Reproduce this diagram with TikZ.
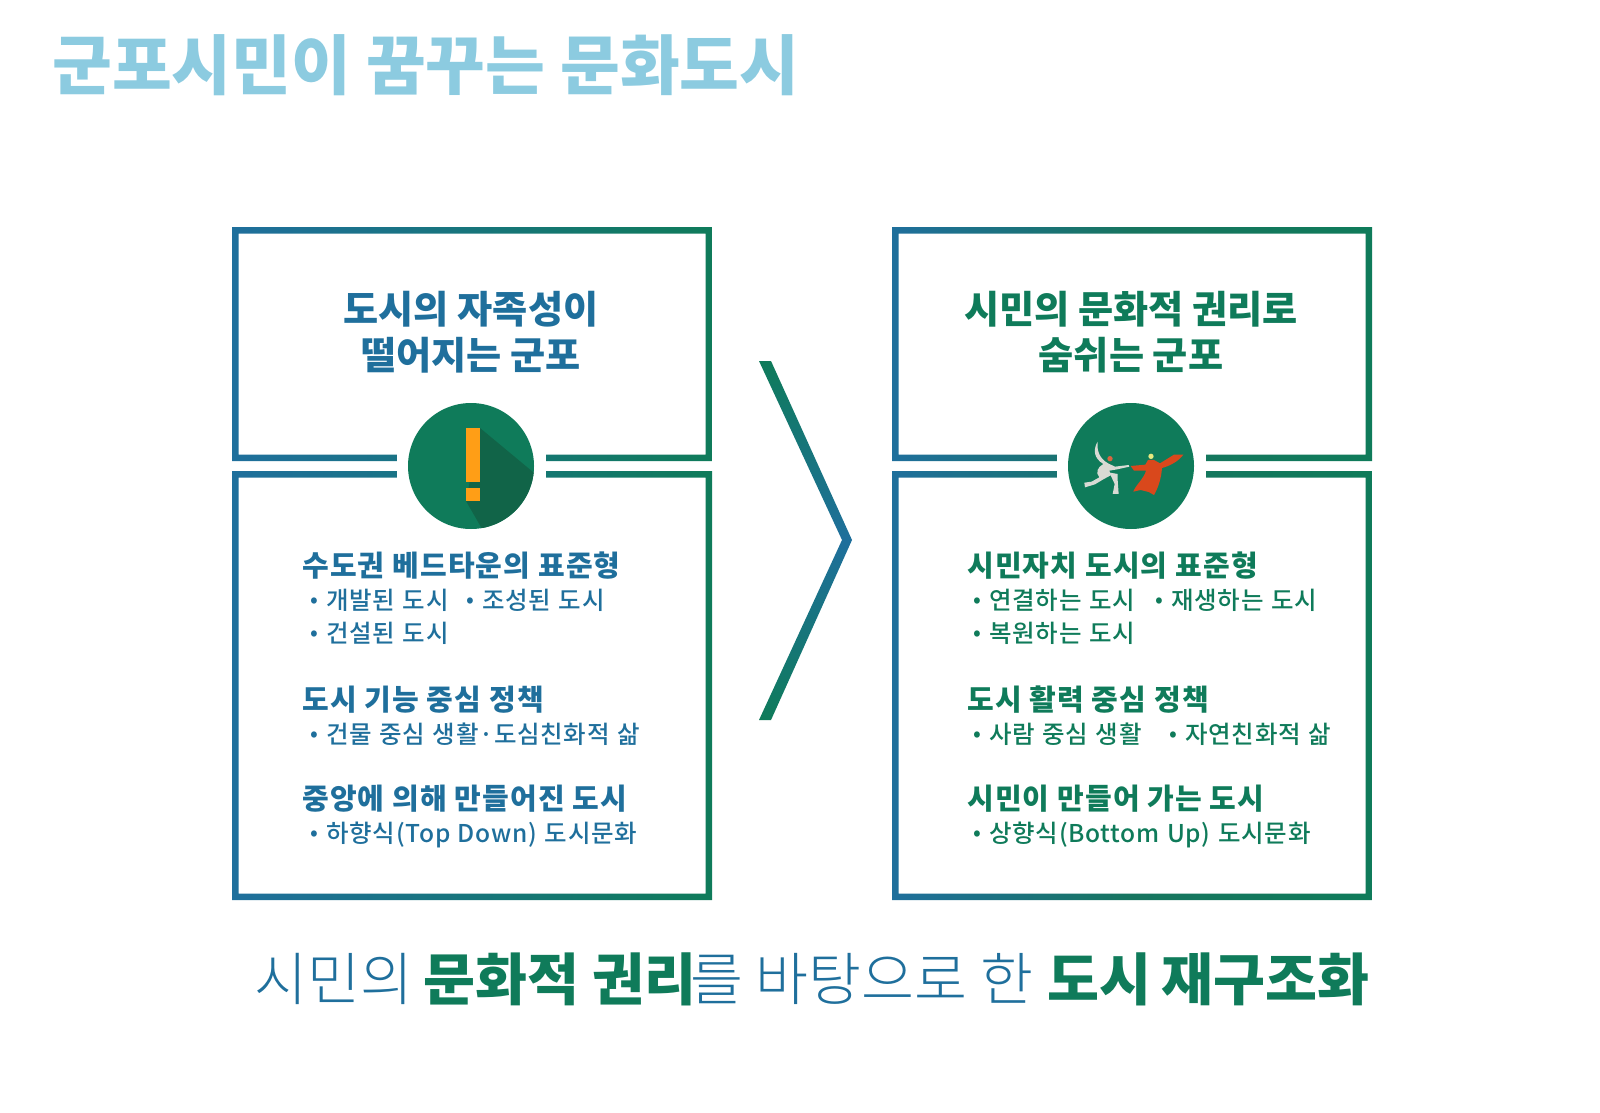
\documentclass[tikz,border=0pt]{standalone}
\usepackage{fontspec}
\newfontfamily\krfont{Noto Sans CJK KR}
\newfontfamily\krmedium[WordSpace=1.2]{Noto Sans CJK KR Medium}
\newfontfamily\krheavy{Noto Sans CJK KR Black}
\newfontfamily\krlight{Noto Sans CJK KR Light}
\definecolor{mblue}{HTML}{1F6F9C}
\definecolor{mgreen}{HTML}{0F7B5A}
\definecolor{msky}{HTML}{8CCBE0}
\definecolor{mdark}{HTML}{116448}
\definecolor{morange}{HTML}{FF9E16}
\definecolor{mgrey}{HTML}{D9DAD4}
\definecolor{mred}{HTML}{D9481C}
\definecolor{mteal}{HTML}{17755F}
\newcommand{\itemmark}{\llap{\raisebox{1.5pt}{\fontsize{22}{22}\selectfont\textbullet}\hspace{8pt}}}
\tikzset{
  titletext/.style={inner sep=0,anchor=base west,text=msky,font=\krheavy\fontsize{65}{65}\selectfont},
  headtext/.style={inner sep=0,align=center,font=\krheavy\fontsize{38.2}{46}\selectfont},
  itemhead/.style={inner sep=0,anchor=base west,font=\krfont\bfseries\fontsize{29}{29}\selectfont\addfontfeature{LetterSpace=4}},
  itemtext/.style={inner sep=0,anchor=base west,font=\krmedium\fontsize{24.5}{24.5}\selectfont\addfontfeature{LetterSpace=3}},
  lowtext/.style={inner sep=0,anchor=base west,text=mblue,font=\krlight\fontsize{57.5}{57.5}\selectfont},
  lowbold/.style={inner sep=0,anchor=base west,text=mgreen,font=\krheavy\fontsize{56.5}{56.5}\selectfont},
}
\begin{document}
\begin{tikzpicture}[x=1pt,y=-1pt]
  \useasboundingbox (0,0) rectangle (1600,1113);

  % Title
  \node[titletext] (title) at (52,90) {군포시민이 꿈꾸는 문화도시};

  % Left frames
  \shade[left color=mblue,right color=mgreen,even odd rule]
    (232,227) rectangle (712,461) (238.5,233.5) rectangle (705.5,454.5);
  \shade[left color=mblue,right color=mgreen,even odd rule]
    (232,471) rectangle (712,900) (238.5,477.5) rectangle (705.5,893.5);
  \fill[white] (397,450) rectangle (546,482);

  % Right frames
  \shade[left color=mblue,right color=mgreen,middle color=mteal,even odd rule]
    (892,227) rectangle (1372,461) (898.5,233.5) rectangle (1365.5,454.5);
  \shade[left color=mblue,right color=mgreen,middle color=mteal,even odd rule]
    (892,471) rectangle (1372,900) (898.5,477.5) rectangle (1365.5,893.5);
  \fill[white] (1057,450) rectangle (1206,482);

  % Chevron
  \shade[top color=mgreen,bottom color=mgreen,middle color=mblue]
    (759,361) -- (771,361) -- (852,540) -- (771,720) -- (759,720) -- (842,540) -- cycle;

  % Warning badge
  \fill[mgreen] (471,466) circle (63);
  \begin{scope}
    \clip (471,466) circle (63);
    \fill[mdark] (480,428) -- (545,482) -- (545,560) -- (500,560) -- (466,501) -- cycle;
  \end{scope}
  \fill[morange] (466,428) rectangle (480,482);
  \fill[morange] (466,488) rectangle (480,501);

  % Dancers badge
  \fill[mgreen] (1131,466) circle (63);
  \begin{scope}[shift={(1020,380)},x=0.3333pt,y=-0.3333pt]
    % white dancer
    \fill[mgrey] (233,185) .. controls (218,210) and (222,235) .. (250,252)
      .. controls (232,262) and (226,278) .. (238,292) -- (215,305) -- (193,308) -- (195,322)
      -- (225,313) -- (250,298) -- (272,286) -- (284,312) -- (278,342) -- (296,342)
      -- (293,300) -- (293,282) -- (270,278) -- (268,272) -- (292,268) -- (328,260) -- (326,255)
      -- (285,260) -- (264,250) .. controls (240,236) and (230,215) .. (233,185) -- cycle;
    \fill[mred!80!mgrey] (270,236) circle (8);
    % red dancer
    \fill[mred] (332,258) -- (376,254) -- (384,240) -- (402,240) -- (420,250) -- (462,224)
      -- (490,224) .. controls (478,242) and (450,258) .. (426,264)
      .. controls (424,295) and (414,325) .. (402,345) -- (386,336) -- (362,330) -- (340,335)
      .. controls (346,316) and (372,296) .. (378,272) -- (342,272) -- cycle;
    \fill[mgrey!60!yellow] (393,229) circle (8);
  \end{scope}

  % Frame headings
  \node[headtext,text=mblue] (lefthead) at (471,332) {도시의 자족성이\\떨어지는 군포};
  \node[headtext,text=mgreen] (righthead) at (1131,332) {시민의 문화적 권리로\\숨쉬는 군포};

  % Left list
  \begin{scope}[text=mblue]
    \node[itemhead] (la) at (302,576) {수도권 베드타운의 표준형};
    \node[itemtext] (lb) at (326,609) {\itemmark 개발된 도시};
    \node[itemtext] (lc) at (482,609) {\itemmark 조성된 도시};
    \node[itemtext] (ld) at (326,642) {\itemmark 건설된 도시};
    \node[itemhead] (le) at (302,710) {도시 기능 중심 정책};
    \node[itemtext] (lf) at (326,743) {\itemmark 건물 중심 생활·도심친화적 삶};
    \node[itemhead] (lg) at (302,809) {중앙에 의해 만들어진 도시};
    \node[itemtext] (lh) at (326,842) {\itemmark 하향식(Top Down) 도시문화};
  \end{scope}

  % Right list
  \begin{scope}[text=mgreen]
    \node[itemhead] (ra) at (967,576) {시민자치 도시의 표준형};
    \node[itemtext] (rb) at (989,609) {\itemmark 연결하는 도시};
    \node[itemtext] (rc) at (1171,609) {\itemmark 재생하는 도시};
    \node[itemtext] (rd) at (989,642) {\itemmark 복원하는 도시};
    \node[itemhead] (re) at (967,710) {도시 활력 중심 정책};
    \node[itemtext] (rf) at (989,743) {\itemmark 사람 중심 생활};
    \node[itemtext] (rg) at (1185,743) {\itemmark 자연친화적 삶};
    \node[itemhead] (rh) at (967,809) {시민이 만들어 가는 도시};
    \node[itemtext] (ri) at (989,842) {\itemmark 상향식(Bottom Up) 도시문화};
  \end{scope}

  % Bottom line
  \node[lowtext] (lowa) at (254,1000) {시민의};
  \node[lowbold] (lowb) at (423,1000) {문화적 권리};
  \node[lowtext] (lowc) at (690,1000) {를 바탕으로 한};
  \node[lowbold] (lowd) at (1047,1000) {도시\hspace{-3pt} 재구조화};
\end{tikzpicture}
\end{document}
